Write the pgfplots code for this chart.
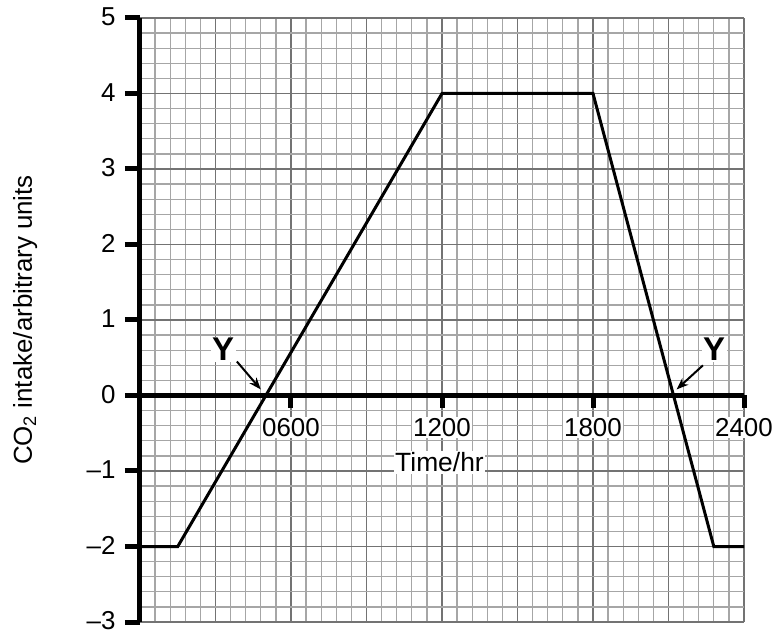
\documentclass[border=0pt]{standalone}
\usepackage{fontspec}
\setmainfont{Liberation Sans}
\usepackage{pgfplots}
\pgfplotsset{compat=1.18}
\usetikzlibrary{arrows.meta}
\begin{document}
\begin{tikzpicture}
\begin{axis}[
  scale only axis, width=604bp, height=604bp,
  xmin=0, xmax=2400, ymin=-3, ymax=5,
  axis line style={draw=none},
  xtick={0,300,...,2400}, xticklabels={},
  minor x tick num=4,
  ytick={-3,...,5},
  yticklabels={–3,–2,–1,0,1,2,3,4,5},
  minor y tick num=4,
  grid=both,
  minor grid style={line width=1.3bp, color=black!35},
  major grid style={line width=1.7bp, color=black!55},
  tick pos=left, tick align=outside,
  major tick length=15bp, minor tick length=0pt,
  xtick style={draw=none},
  ytick style={line width=5bp, black},
  yticklabel style={font=\fontsize{26}{26}\selectfont, xshift=-6bp, yshift=1bp},
  ylabel={CO\textsubscript{2} intake/arbitrary units},
  ylabel style={font=\fontsize{26}{26}\selectfont, at={(axis description cs:-0.19,0.5)}, anchor=center},
  clip=false,
]
\coordinate (BL) at (rel axis cs:0,0);
\coordinate (TR) at (rel axis cs:1,1);
\addplot[black, line width=3bp] coordinates {(0,-2) (150,-2) (1200,4) (1800,4) (2280,-2) (2400,-2)};
\draw[line width=5bp] (axis cs:0,-3) -- (axis cs:0,5);
\draw[line width=5bp] (axis cs:0,0) -- (axis cs:2400,0);
\pgfplotsinvokeforeach{600,1200,1800,2400}{
  \draw[line width=5bp] (axis cs:#1,0) -- ([yshift=-13bp]axis cs:#1,0);
}
\node[fill=white, inner sep=1.5bp, anchor=base, font=\fontsize{26}{26}\selectfont, yshift=-41bp] at (axis cs:600,0) {0600};
\node[fill=white, inner sep=1.5bp, anchor=base, font=\fontsize{26}{26}\selectfont, yshift=-41bp] at (axis cs:1200,0) {1200};
\node[fill=white, inner sep=1.5bp, anchor=base, font=\fontsize{26}{26}\selectfont, yshift=-41bp] at (axis cs:1800,0) {1800};
\node[fill=white, inner sep=1.5bp, anchor=base, font=\fontsize{26}{26}\selectfont, yshift=-41bp] at (axis cs:2400,0) {2400};
\node[fill=white, inner sep=1.5bp, anchor=base, font=\fontsize{26.5}{26.5}\selectfont] at (axis cs:1190,-1.01) {Time/hr};
\node[fill=white, inner sep=1.5bp, font=\bfseries\fontsize{33}{33}\selectfont] at (axis cs:330,0.61) {Y};
\node[fill=white, inner sep=1.5bp, font=\bfseries\fontsize{33}{33}\selectfont] at (axis cs:2281,0.61) {Y};
\draw[line width=2bp, -{Stealth[length=12bp,width=9bp]}] (axis cs:385,0.45) -- (axis cs:480,0.08);
\draw[line width=2bp, -{Stealth[length=12bp,width=9bp]}] (axis cs:2237,0.40) -- (axis cs:2132,0.08);
\end{axis}
\pgfresetboundingbox
\path[use as bounding box] ([shift={(-140bp,-13bp)}]BL) rectangle ([shift={(30bp,18bp)}]TR);
\end{tikzpicture}
\end{document}
